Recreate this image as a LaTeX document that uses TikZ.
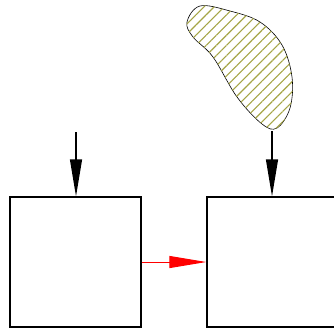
\documentclass[tikz,border=0pt]{standalone}
\usetikzlibrary{arrows.meta,patterns.meta}
\definecolor{hatchgreen}{RGB}{165,165,70}
\tikzset{
  blockbox/.style={draw,line width=1.3pt,minimum width=131pt,minimum height=130pt,inner sep=0pt},
  feed/.style={line width=1.3pt,-{Triangle[length=37pt,width=12pt]}},
  link/.style={red,line width=1pt,-{Triangle[length=37pt,width=12pt]}}
}
\begin{document}
\begin{tikzpicture}[x=1pt,y=-1pt]
  \clip (0,0) rectangle (334,333);
  \useasboundingbox (0,0) rectangle (334,333);
  % blocks
  \node[blockbox] (left) at (75.5,262) {};
  \node[blockbox] (right) at (272.5,262) {};
  % hatched source region
  \draw[line width=0.6pt,fill=white,
        postaction={pattern={Lines[angle=45,distance=7.2pt,line width=1.1pt]},pattern color=hatchgreen}]
    plot[smooth cycle,tension=0.6] coordinates {
      (200,6) (230,11) (260,22) (282,45) (292,77) (290,108) (277,128)
      (262,124) (237,97) (213,57) (193,37) (187,22)};
  \coordinate (src) at (272,131);
  \coordinate (top) at (76,132);
  % connectors
  \draw[feed] (top) -- (top |- left.north);
  \draw[feed] (src) -- (src |- right.north);
  \draw[link] (left.east) -- (right.west);
\end{tikzpicture}
\end{document}
